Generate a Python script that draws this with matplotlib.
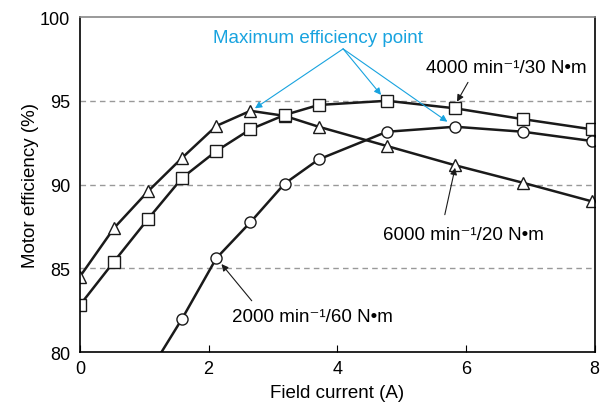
import matplotlib.pyplot as plt

plt.rcParams['font.family'] = ['Liberation Sans', 'DejaVu Sans']

current = [0, 0.53, 1.06, 1.59, 2.12, 2.65, 3.18, 3.71, 4.77, 5.83, 6.89, 7.95]
eff_6000 = [84.5, 87.4, 89.6, 91.6, 93.5, 94.4, 94.1, 93.45, 92.3, 91.15, 90.1, 89.0]
eff_4000 = [82.8, 85.4, 87.95, 90.4, 92.0, 93.3, 94.15, 94.75, 95.0, 94.55, 93.9, 93.3]
current_2000 = [1.06, 1.59, 2.12, 2.65, 3.18, 3.71, 4.77, 5.83, 6.89, 7.95]
eff_2000 = [78.7, 82.0, 85.6, 87.75, 90.05, 91.5, 93.15, 93.45, 93.15, 92.6]

fig = plt.figure(figsize=(6.1, 4.1), dpi=100)
ax = fig.add_axes([0.131, 0.139, 0.844, 0.817])

line_kw = dict(color="#1a1a1a", lw=1.8, mfc="white", mec="#1a1a1a", mew=1.0, ms=8)
ax.plot(current, eff_6000, marker="^", **line_kw)
ax.plot(current, eff_4000, marker="s", **line_kw)
ax.plot(current_2000, eff_2000, marker="o", **line_kw)

ax.set_xlim(0, 8)
ax.set_ylim(80, 100)
ax.set_xticks([0, 2, 4, 6, 8])
ax.set_yticks([80, 85, 90, 95, 100])
for yv in [85, 90, 95]:
    ax.axhline(yv, color="#999999", lw=1.0, ls=(0, (4, 3)), zorder=0)

ax.spines["top"].set_color("#888888")
ax.spines["top"].set_linewidth(1.2)
for s in ["left", "right", "bottom"]:
    ax.spines[s].set_linewidth(1.2)
ax.tick_params(axis="x", direction="in", length=5, labelsize=13, pad=6)
ax.tick_params(axis="y", length=0, labelsize=13, pad=7)
ax.set_xlabel("Field current (A)", fontsize=13.5, labelpad=5)
ax.set_ylabel("Motor efficiency (%)", fontsize=13.5, labelpad=1)

blue = "#18a3df"
ax.text(3.70, 98.8, "Maximum efficiency point", color=blue, fontsize=13.5,
        ha="center", va="center")
for tip in [(2.72, 94.55), (4.68, 95.35), (5.71, 93.75)]:
    ax.annotate("", xy=tip, xytext=(4.09, 98.1),
                arrowprops=dict(arrowstyle="-|>", color=blue, lw=0.8,
                                mutation_scale=10, shrinkA=0, shrinkB=0))

blk = dict(arrowstyle="-|>", color="#1a1a1a", lw=0.8, mutation_scale=10,
           shrinkA=0, shrinkB=0)
ax.text(5.38, 97.0, "4000 min\u207b\u00b9/30 N\u2022m", fontsize=13.5,
        ha="left", va="center")
ax.annotate("", xy=(5.86, 94.95), xytext=(6.03, 96.1), arrowprops=blk)
ax.text(4.71, 87.0, "6000 min\u207b\u00b9/20 N\u2022m", fontsize=13.5,
        ha="left", va="center")
ax.annotate("", xy=(5.83, 91.0), xytext=(5.67, 88.2), arrowprops=blk)
ax.text(2.36, 82.1, "2000 min\u207b\u00b9/60 N\u2022m", fontsize=13.5,
        ha="left", va="center")
ax.annotate("", xy=(2.2, 85.25), xytext=(2.67, 83.06), arrowprops=blk)

fig.savefig("out.png", dpi=100)
